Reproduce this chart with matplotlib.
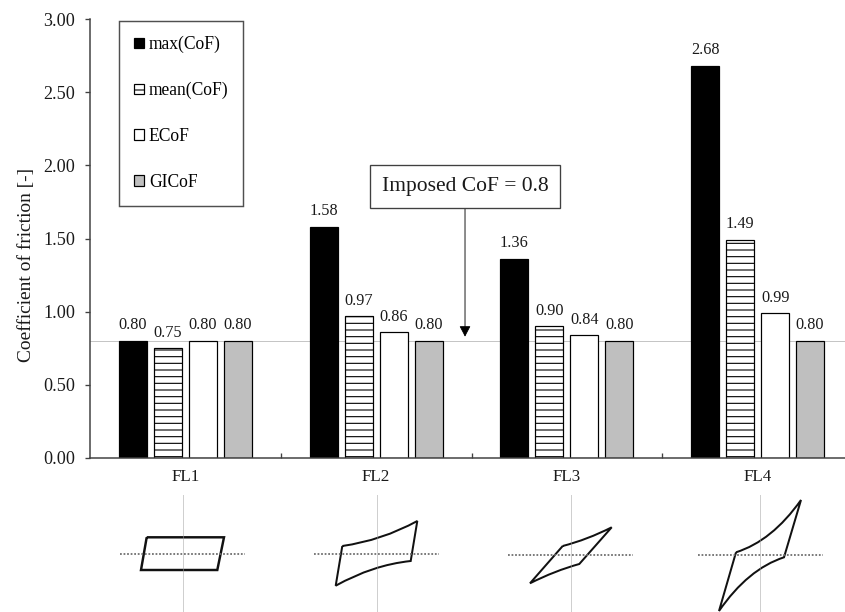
import numpy as np
import matplotlib
matplotlib.use('Agg')
import matplotlib.pyplot as plt
from matplotlib.path import Path
from matplotlib.patches import PathPatch

plt.rcParams['font.family'] = ['Liberation Serif', 'DejaVu Serif']
plt.rcParams['hatch.linewidth'] = 1.0

categories = ['FL1', 'FL2', 'FL3', 'FL4']
series_names = ['max(CoF)', 'mean(CoF)', 'ECoF', 'GICoF']
max_cof = [0.80, 1.58, 1.36, 2.68]
mean_cof = [0.75, 0.97, 0.90, 1.49]
ecof = [0.80, 0.86, 0.84, 0.99]
gicof = [0.80, 0.80, 0.80, 0.80]
imposed_cof = 0.8
y_ticks = [0.0, 0.5, 1.0, 1.5, 2.0, 2.5, 3.0]

# hysteresis loop sketches under each group (pixels, relative to the loop centre)
loop_corners = [
    [(-36, -16.7), (41.3, -16.7), (34.6, 16), (-41.7, 16)],
    [(-34.4, -8), (40.6, -33), (34, 7), (-41, 31.7)],
    [(-8, -9.3), (41, -28), (8.6, 8.7), (-40.7, 28)],
    [(-24, -2.7), (41, -55), (24, 2.3), (-41, 56)],
]
loop_controls = [
    [None, None],
    [(5, -13.5), (-4, 11)],
    [(16.5, -15.6), (-16, 15.5)],
    [(12, -14), (-12, 14)],
]
loop_centres = [(182.7, 554), (376.7, 554), (570.7, 555.3), (760, 555)]

W, H, DPI = 845, 612, 80
fig = plt.figure(figsize=(W / DPI, H / DPI), dpi=DPI)

ax = fig.add_axes([90 / W, 1 - 458 / H, 763 / W, 439 / H])
x = np.arange(len(categories))
offsets = [-0.275, -0.092, 0.092, 0.275]
width = 0.147
faces = ['black', 'white', 'white', '#bfbfbf']
hatches = [None, '--', None, None]
values = [max_cof, mean_cof, ecof, gicof]

ax.axhline(imposed_cof, color='#8c8c8c', ls=(0, (1, 1)), lw=0.9, zorder=0.5)

for vals, name, off, fc, ht in zip(values, series_names, offsets, faces, hatches):
    ax.bar(x + off, vals, width, facecolor=fc, edgecolor='black', linewidth=1.1,
           hatch=ht, label=name, zorder=2)
    for xi, v in zip(x + off, vals):
        ax.annotate(f'{v:.2f}', (xi, v), xytext=(0, 14), textcoords='offset points',
                    ha='center', va='center', fontsize=14.6, color='#1a1a1a')

ax.set_xlim(-0.5, 3.5)
ax.set_ylim(0, 3)
ax.set_yticks(y_ticks)
ax.set_yticklabels([f'{t:.2f}' for t in y_ticks])
ax.set_xticks(x)
ax.set_xticklabels(categories)
ax.set_xticks([0.5, 1.5, 2.5], minor=True)
ax.tick_params(axis='x', which='major', length=0, pad=10, labelsize=15.3, labelcolor='#1a1a1a')
ax.tick_params(axis='x', which='minor', direction='in', length=4.5, width=1.2, color='#404040')
ax.tick_params(axis='y', direction='out', length=4.5, width=1.2, color='#404040',
               pad=9, labelsize=16.3, labelcolor='#1a1a1a')
for s in ['top', 'right']:
    ax.spines[s].set_visible(False)
for s in ['left', 'bottom']:
    ax.spines[s].set_color('#404040')
    ax.spines[s].set_linewidth(1.35)

ax.set_ylabel('Coefficient of friction [-]', fontsize=17.4, color='#1a1a1a')
ax.yaxis.set_label_coords(-0.072, 0.44)

leg = ax.legend(loc='upper left', bbox_to_anchor=(0.038, 0.995), borderaxespad=0,
                fancybox=False, edgecolor='#505050', framealpha=1,
                handlelength=0.55, handleheight=0.55, handletextpad=0.3,
                labelspacing=1.63, borderpad=0.85, prop=dict(size=15.8))
leg.get_frame().set_linewidth(1.3)

ax.annotate(f'Imposed CoF = {imposed_cof}', xy=(1.466, 0.829), xytext=(1.466, 1.857),
            ha='center', va='center', fontsize=19.4, color='#1a1a1a',
            bbox=dict(boxstyle='square,pad=0.55', fc='white', ec='#404040', lw=1.2),
            arrowprops=dict(arrowstyle='-|>,head_length=0.42,head_width=0.22',
                            color='black', lw=0.8, shrinkA=0, shrinkB=0))

lax = fig.add_axes([0, 0, 1, 1])
lax.set_xlim(0, W)
lax.set_ylim(H, 0)
lax.axis('off')
for i, ((cx, cy), corners, ctrl) in enumerate(zip(loop_centres, loop_corners, loop_controls)):
    lax.plot([cx - 62.5, cx + 62.5], [cy, cy], color='#6e6e6e', ls=(0, (1, 1)), lw=1.6)
    lax.plot([cx, cx], [495, H], color='#a0a0a0', ls=(0, (1, 1)), lw=0.9)
    p = [(cx + a, cy + b) for a, b in corners]
    c = [None if k is None else (cx + k[0], cy + k[1]) for k in ctrl]
    verts, codes = [p[0]], [Path.MOVETO]
    if c[0] is None:
        verts += [p[1]]; codes += [Path.LINETO]
    else:
        verts += [c[0], p[1]]; codes += [Path.CURVE3, Path.CURVE3]
    verts += [p[2]]; codes += [Path.LINETO]
    if c[1] is None:
        verts += [p[3]]; codes += [Path.LINETO]
    else:
        verts += [c[1], p[3]]; codes += [Path.CURVE3, Path.CURVE3]
    verts += [p[0]]; codes += [Path.LINETO]
    lax.add_patch(PathPatch(Path(verts, codes), fill=False, edgecolor='#111111',
                            lw=2.2 if i == 0 else 1.8, joinstyle='miter'))

fig.savefig('out.png', dpi=DPI)
